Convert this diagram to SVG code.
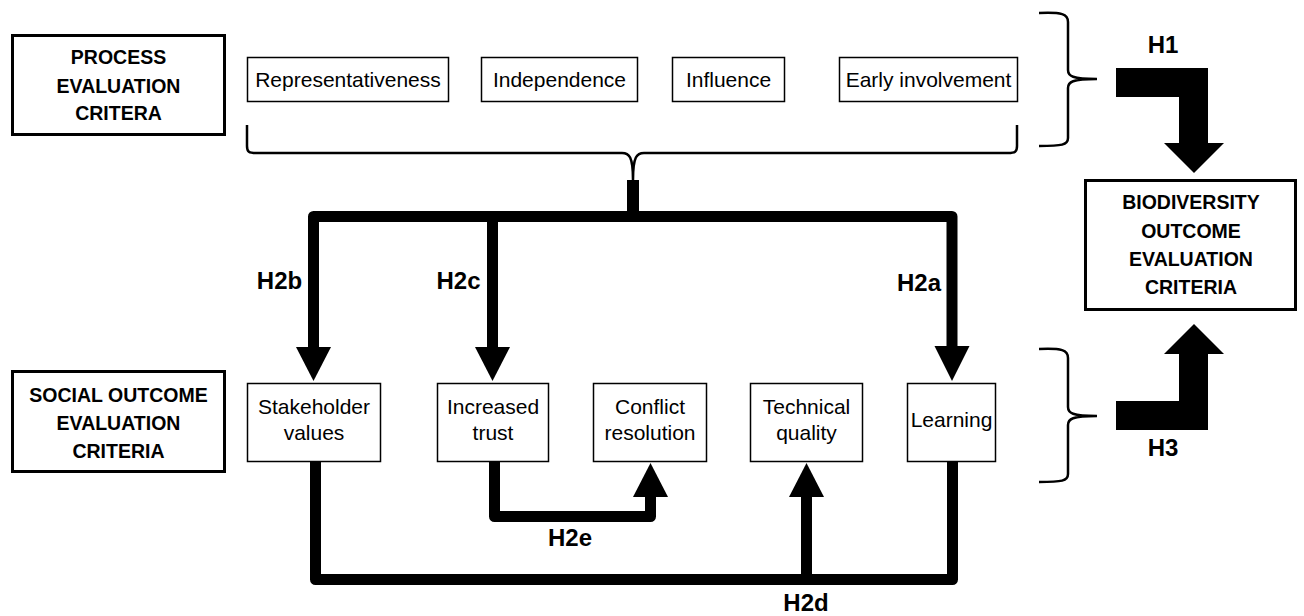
<svg xmlns="http://www.w3.org/2000/svg" width="1304" height="616" viewBox="0 0 1304 616">
<style>
.hdr{fill:#fff;stroke:#000;stroke-width:3}
.box{fill:#fff;stroke:#000;stroke-width:1.5}
.ht{font-family:"Liberation Sans",Arial,sans-serif;font-weight:bold;font-size:19.5px;text-anchor:middle;fill:#000}
.t{font-family:"Liberation Sans",Arial,sans-serif;font-size:21px;text-anchor:middle;fill:#000}
.lb{font-family:"Liberation Sans",Arial,sans-serif;font-weight:bold;font-size:24px;text-anchor:middle;fill:#000}
.thick{fill:none;stroke:#000;stroke-width:11;stroke-linejoin:round}
.brace{fill:none;stroke:#000;stroke-width:2.5}
.head{fill:#000}
</style>
<rect width="1304" height="616" fill="#fff"/>
<g id="process-criteria">
<rect class="hdr" x="12.5" y="35.5" width="212" height="99"/>
<text class="ht" x="118.5" y="64">PROCESS</text>
<text class="ht" x="118.5" y="93">EVALUATION</text>
<text class="ht" x="118.5" y="120">CRITERA</text>
</g>
<g id="social-criteria">
<rect class="hdr" x="12.5" y="371.5" width="212" height="100"/>
<text class="ht" x="118.5" y="402">SOCIAL OUTCOME</text>
<text class="ht" x="118.5" y="430">EVALUATION</text>
<text class="ht" x="118.5" y="458">CRITERIA</text>
</g>
<g id="biodiversity-criteria">
<rect class="hdr" x="1085.5" y="180.5" width="210" height="129"/>
<text class="ht" x="1191" y="209">BIODIVERSITY</text>
<text class="ht" x="1191" y="238">OUTCOME</text>
<text class="ht" x="1191" y="266">EVALUATION</text>
<text class="ht" x="1191" y="294">CRITERIA</text>
</g>
<g id="representativeness"><rect class="box" x="247.5" y="57.5" width="201" height="44"/><text class="t" x="348" y="87">Representativeness</text></g>
<g id="independence"><rect class="box" x="481.5" y="57.5" width="156" height="44"/><text class="t" x="559.5" y="87">Independence</text></g>
<g id="influence"><rect class="box" x="672.5" y="57.5" width="112" height="44"/><text class="t" x="728.5" y="87">Influence</text></g>
<g id="early-involvement"><rect class="box" x="839.5" y="57.5" width="178" height="44"/><text class="t" x="928.5" y="87">Early involvement</text></g>
<g id="stakeholder-values"><rect class="box" x="247.5" y="383.5" width="133" height="78"/><text class="t" x="314" y="414">Stakeholder</text><text class="t" x="314" y="440">values</text></g>
<g id="increased-trust"><rect class="box" x="437.5" y="383.5" width="111" height="78"/><text class="t" x="493" y="414">Increased</text><text class="t" x="493" y="440">trust</text></g>
<g id="conflict-resolution"><rect class="box" x="593.5" y="383.5" width="113" height="78"/><text class="t" x="650" y="414">Conflict</text><text class="t" x="650" y="440">resolution</text></g>
<g id="technical-quality"><rect class="box" x="750.5" y="383.5" width="112" height="78"/><text class="t" x="806.5" y="414">Technical</text><text class="t" x="806.5" y="440">quality</text></g>
<g id="learning"><rect class="box" x="907.5" y="383.5" width="88" height="78"/><text class="t" x="951.5" y="427">Learning</text></g>
<g id="connectors">
<path class="brace" d="M247,125 L247,146 C247,152 249,153 256,153 L622,153 C629,153 633,156 633,180 C633,156 637,153 644,153 L1008,153 C1015,153 1017,152 1017,146 L1017,125"/>
<path class="brace" d="M1039,13 C1062,12 1068,14 1068,22 L1068,70 C1068,76 1072,79 1097,79 C1072,79 1068,82 1068,88 L1068,138 C1068,145 1062,146 1039,146"/>
<path class="brace" d="M1039,349 C1062,348 1068,350 1068,358 L1068,407 C1068,413 1072,416 1097,416 C1072,416 1068,419 1068,425 L1068,474 C1068,481 1062,482 1039,482"/>
<rect class="head" x="627" y="180" width="12" height="33"/>
<path class="thick" d="M313.5,348 L313.5,216.5 L952,216.5 L952,348"/>
<path class="thick" d="M492.5,216.5 L492.5,348"/>
<polygon class="head" points="296,347 331,347 313.5,381"/>
<polygon class="head" points="475,347 510,347 492.5,381"/>
<polygon class="head" points="934.5,346 969.5,346 952,381"/>
<path class="thick" d="M315.5,462 L315.5,579.5 L952.5,579.5 L952.5,462"/>
<path class="thick" d="M806.5,579 L806.5,496"/>
<polygon class="head" points="789,497 824,497 806.5,463"/>
<path class="thick" d="M494.5,462 L494.5,516.5 L650.5,516.5 L650.5,496"/>
<polygon class="head" points="633,497 668,497 650.5,463"/>
<polygon class="head" points="1116,68 1208,68 1208,143 1224,143 1194,173 1164,143 1179,143 1179,97 1116,97"/>
<polygon class="head" points="1116,430 1208,430 1208,354 1224,354 1194,324 1164,354 1179,354 1179,401 1116,401"/>
<text class="lb" x="1163" y="53">H1</text>
<text class="lb" x="1163" y="456">H3</text>
<text class="lb" x="279.5" y="288.5">H2b</text>
<text class="lb" x="458.5" y="288.5">H2c</text>
<text class="lb" x="919" y="290.5">H2a</text>
<text class="lb" x="570" y="546">H2e</text>
<text class="lb" x="806" y="611">H2d</text>
</g>
</svg>
